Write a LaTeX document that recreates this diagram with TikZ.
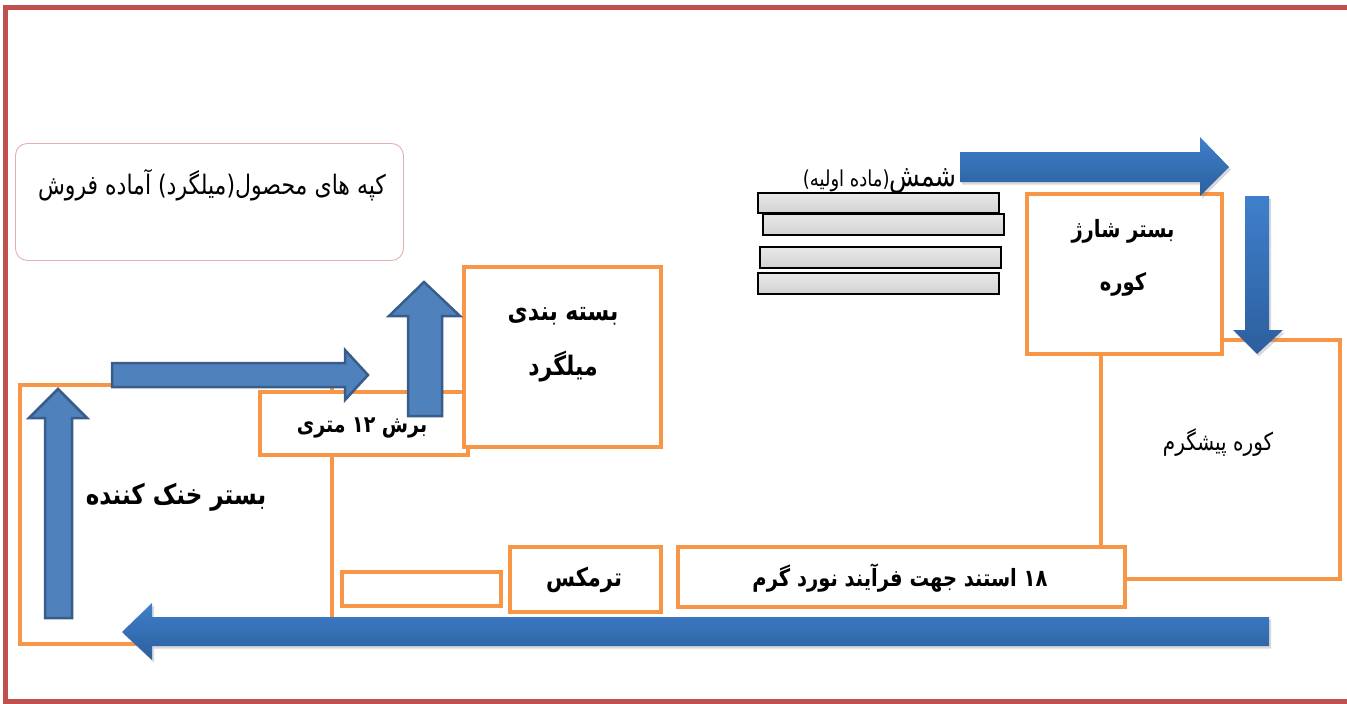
\documentclass[tikz,border=0pt]{standalone}
\usepackage{fontspec}
\usepackage{graphicx}
\usetikzlibrary{shadows}
\TeXXeTstate=1
\newfontfamily\fa[Script=Arabic]{DejaVu Sans}
\newcommand\fatxt[1]{\scalebox{1}[1.22]{\beginR #1\endR}}
\definecolor{bred}{HTML}{C0504D}
\definecolor{orng}{HTML}{F79646}
\definecolor{bfill}{HTML}{4F81BD}
\definecolor{bline}{HTML}{385D8A}
\definecolor{gtop}{HTML}{3F7FCB}
\definecolor{gbot}{HTML}{2C5F9E}
\begin{document}
\begin{tikzpicture}[x=1pt,y=-1pt,
  obox/.style={draw=orng, line width=3.5pt, fill=white, inner sep=0pt, anchor=north west},
  ingot/.style={draw=black, line width=1.8pt, inner sep=0pt, anchor=north west,
     top color=gray!18, bottom color=gray!35,
     drop shadow={opacity=0.25, shadow xshift=1.5pt, shadow yshift=-1.5pt}},
  gradarrow/.style={top color=gtop, bottom color=gbot, draw=none,
     drop shadow={opacity=0.3, shadow xshift=2pt, shadow yshift=-2.5pt}},
  flatarrow/.style={fill=bfill, draw=bline, line width=2.5pt, line join=miter},
  btxt/.style={inner sep=0pt},
  rtxt/.style={inner sep=0pt}
]
\useasboundingbox (0,0) rectangle (1347,704);
% outer frame
\draw[bred, line width=5pt] (5.5,7) rectangle (1352,701);

% ready product box
\node[draw=bred!45, line width=0.9pt, rounded corners=12pt, minimum width=388pt, minimum height=117pt,
      inner sep=0pt, anchor=north west] (kope) at (15,143) {};
\node[rtxt, font=\fa\fontsize{22}{26}\selectfont] (tKope) at (212,185) {\fatxt{کپه های محصول(میلگرد) آماده فروش}};

% ingots
\node[ingot, minimum width=241pt, minimum height=20pt] (ing1) at (757,192) {};
\node[ingot, minimum width=241pt, minimum height=21pt] (ing2) at (762,213) {};
\node[ingot, minimum width=241pt, minimum height=21pt] (ing3) at (759,246) {};
\node[ingot, minimum width=241pt, minimum height=21pt] (ing4) at (757,272) {};
\node[inner sep=0pt, anchor=base east] (tShemsh) at (957,186)
  {\fa\scalebox{1}[1.22]{\beginR{\fontsize{25}{28}\selectfont شمش}{\fontsize{18}{21}\selectfont(ماده اولیه)}\endR}};

% preheat furnace (behind)
\node[obox, fill=none, minimum width=239pt, minimum height=239pt] (pre) at (1099,338) {};
\node[rtxt, font=\fa\fontsize{20}{24}\selectfont] (tPre) at (1218,443) {\fatxt{کوره پیشگرم}};

% charge bed
\node[obox, minimum width=195pt, minimum height=160pt] (charge) at (1025,192) {};
\node[btxt, font=\fa\bfseries\fontsize{19.5}{23}\selectfont] (tCharge1) at (1123,231) {\fatxt{بستر شارژ}};
\node[btxt, font=\fa\bfseries\fontsize{19.5}{23}\selectfont] (tCharge2) at (1123,284) {\fatxt{کوره}};

% stands
\node[obox, minimum width=447pt, minimum height=60pt] (stand) at (676,545) {};
\node[btxt, font=\fa\bfseries\fontsize{19.5}{23}\selectfont] (tStand) at (900,578) {\fatxt{۱۸ استند جهت فرآیند نورد گرم}};

% tempcore
\node[obox, minimum width=151pt, minimum height=65pt] (term) at (508,545) {};
\node[btxt, font=\fa\bfseries\fontsize{21}{25}\selectfont] (tTerm) at (584,580) {\fatxt{ترمکس}};
\node[obox, minimum width=159pt, minimum height=34pt] (empty) at (340,570) {};

% cooling bed
\node[obox, fill=none, minimum width=312pt, minimum height=259pt] (cool) at (18,383) {};
\node[btxt, font=\fa\bfseries\fontsize{23}{27}\selectfont] (tCool) at (176,497) {\fatxt{بستر خنک کننده}};

% 12 m cut
\node[obox, minimum width=208pt, minimum height=63pt] (cut) at (258,390) {};
\node[btxt, font=\fa\bfseries\fontsize{19}{23}\selectfont] (tCut) at (362,428) {\fatxt{برش ۱۲ متری}};

% packaging
\node[obox, minimum width=197pt, minimum height=180pt] (pack) at (462,265) {};
\node[btxt, font=\fa\bfseries\fontsize{22}{26}\selectfont] (tPack1) at (563,316) {\fatxt{بسته بندی}};
\node[btxt, font=\fa\bfseries\fontsize{22}{26}\selectfont] (tPack2) at (563,367) {\fatxt{میلگرد}};

% gradient arrows
\path[gradarrow] (960,152) -- (1200,152) -- (1200,137) -- (1229,167) -- (1200,196) -- (1200,182) -- (960,182) -- cycle;
\path[gradarrow] (1245,196) -- (1269,196) -- (1269,330) -- (1283,330) -- (1257,354) -- (1233,330) -- (1245,330) -- cycle;
\path[gradarrow] (1269,617) -- (152,617) -- (152,603) -- (122,632) -- (152,660) -- (152,646) -- (1269,646) -- cycle;

% flat arrows
\draw[flatarrow] (112,363) -- (345,363) -- (345,350) -- (368,375) -- (345,400) -- (345,387) -- (112,387) -- cycle;
\draw[flatarrow] (45,618) -- (45,418) -- (29,418) -- (58,389) -- (87,418) -- (72,418) -- (72,618) -- cycle;
\draw[flatarrow] (408,416) -- (408,316) -- (389,316) -- (424,282) -- (460,316) -- (442,316) -- (442,416) -- cycle;
\end{tikzpicture}
\end{document}
